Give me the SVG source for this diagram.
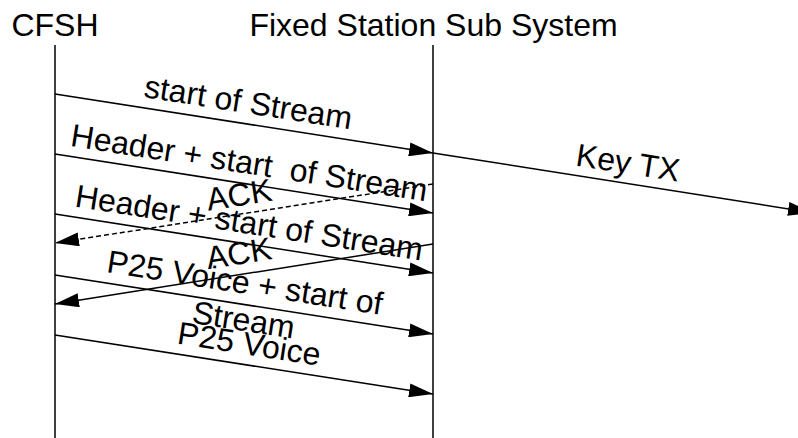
<svg xmlns="http://www.w3.org/2000/svg" width="798" height="438" viewBox="0 0 798 438">
  <style>
    .title { font-family: "Liberation Sans", Arial, sans-serif; font-size: 32px; fill: #000; text-anchor: middle; }
    .lbl { font-family: "Liberation Sans", Arial, sans-serif; font-size: 32px; fill: #000; text-anchor: middle; }
    .life { stroke: #000; stroke-width: 1.5; fill: none; }
    .msg { stroke: #000; stroke-width: 1.5; fill: none; marker-end: url(#head); }
    .dash { stroke-dasharray: 5 3; }
  </style>
  <defs>
    <marker id="head" markerUnits="userSpaceOnUse" markerWidth="25" markerHeight="14" refX="24" refY="7" orient="auto">
      <path d="M0,0 L24,7 L0,14 z" fill="#000"/>
    </marker>
  </defs>
  <rect width="798" height="438" fill="#fff"/>

  <g id="cfsh">
    <text class="title" x="55" y="36">CFSH</text>
    <line class="life" x1="55" y1="45" x2="55" y2="438"/>
  </g>
  <g id="fixed-station">
    <text class="title" x="433.5" y="36">Fixed Station Sub System</text>
    <line class="life" x1="433" y1="45" x2="433" y2="438"/>
  </g>

  <g id="connectors">
    <line class="msg" x1="55" y1="94" x2="433" y2="153"/>
    <line class="msg" x1="433" y1="153" x2="812" y2="212.6"/>
    <line class="msg" x1="55" y1="154" x2="433" y2="213"/>
    <line class="msg dash" x1="433" y1="184" x2="55" y2="243"/>
    <line class="msg" x1="55" y1="214" x2="433" y2="273"/>
    <line class="msg" x1="433" y1="244" x2="55" y2="304"/>
    <line class="msg" x1="55" y1="275" x2="433" y2="334"/>
    <line class="msg" x1="55" y1="335" x2="433" y2="394"/>
  </g>

  <g id="labels">
    <text class="lbl" transform="translate(245,123.5) rotate(8.87)" y="-10.5">start of Stream</text>
    <text class="lbl" transform="translate(625,182.5) rotate(8.87)" y="-9">Key TX</text>
    <text class="lbl" transform="translate(246,183.5) rotate(8.87)" y="-10" xml:space="preserve">Header + start  of Stream</text>
    <text class="lbl" transform="translate(242,213.5) rotate(-8.87)" y="-8">ACK</text>
    <text class="lbl" transform="translate(246,243.5) rotate(8.87)" y="-10">Header + start of Stream</text>
    <text class="lbl" transform="translate(242,274) rotate(-8.87)" y="-10">ACK</text>
    <text class="lbl" transform="translate(246,304.5) rotate(8.87)" y="-10.5">
      <tspan x="0">P25 Voice + start of</tspan>
      <tspan x="0" dy="37">Stream</tspan>
    </text>
    <text class="lbl" transform="translate(246,364.5) rotate(8.87)" y="-10">P25 Voice</text>
  </g>
</svg>
